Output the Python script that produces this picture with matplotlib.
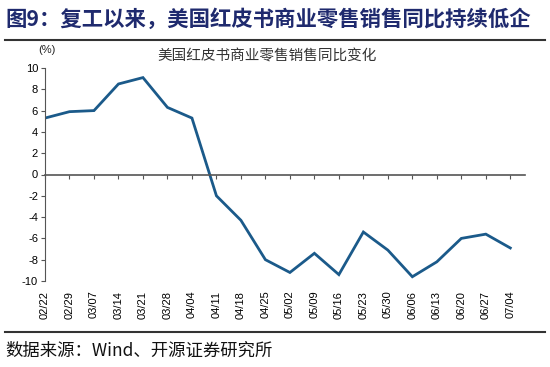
import matplotlib.pyplot as plt

plt.rcParams['font.family'] = ['Liberation Sans', 'Noto Sans CJK SC', 'DejaVu Sans']

dates = ["02/22", "02/29", "03/07", "03/14", "03/21", "03/28", "04/04", "04/11", "04/18", "04/25",
         "05/02", "05/09", "05/16", "05/23", "05/30", "06/06", "06/13", "06/20", "06/27", "07/04"]
yoy = [5.3, 5.9, 6.0, 8.5, 9.1, 6.3, 5.3, -2.0, -4.3, -8.0,
       -9.2, -7.4, -9.4, -5.4, -7.1, -9.6, -8.2, -6.0, -5.6, -6.9]
yticks = list(range(-10, 11, 2))

fig = plt.figure(figsize=(5.5, 3.67), dpi=100)
ax = fig.add_axes([45 / 550, 1 - 281 / 367, 480 / 550, 213 / 367])

x = list(range(len(dates)))
ax.plot(x, yoy, color='#1B5A8A', lw=2.0, solid_joinstyle='miter')

ax.set_xlim(0, 19.6)
ax.set_ylim(-10, 10)
ax.set_yticks(yticks)
ax.set_yticklabels([str(v) for v in yticks], fontsize=8)
ax.tick_params(axis='y', direction='out', length=3, width=0.8, color='#555555', pad=2)

for s in ['top', 'right']:
    ax.spines[s].set_visible(False)
ax.spines['left'].set_color('#555555')
ax.spines['left'].set_linewidth(0.8)
ax.spines['bottom'].set_position(('data', 0))
ax.spines['bottom'].set_color('#555555')
ax.spines['bottom'].set_linewidth(1.2)
ax.set_xticks(x)
ax.tick_params(axis='x', direction='out', length=3, width=0.8, color='#555555', labelbottom=False)

sec = ax.secondary_xaxis('bottom')
sec.spines['bottom'].set_visible(False)
sec.set_xticks(x)
sec.set_xticklabels(dates, rotation=90, fontsize=8)
sec.tick_params(axis='x', length=0, pad=7)

ax.text(-0.015, 1.06, '(%)', transform=ax.transAxes, fontsize=8, ha='left', va='bottom', color='#222222')
ax.text(0.4625, 1.02, '美国红皮书商业零售销售同比变化', transform=ax.transAxes, fontsize=10.5,
        ha='center', va='bottom', color='#333333', family=['Noto Sans CJK SC'])

fig.text(5 / 550, 1 - 19 / 367, '图9：复工以来，美国红皮书商业零售销售同比持续低企', fontsize=15.4,
         fontweight='bold', color='#1F2A6E', ha='left', va='center', family=['Noto Sans CJK SC'])
fig.add_artist(plt.Line2D([5 / 550, 545 / 550], [1 - 40 / 367, 1 - 40 / 367], color='#333333', lw=1.5))
fig.add_artist(plt.Line2D([5 / 550, 545 / 550], [1 - 332 / 367, 1 - 332 / 367], color='#333333', lw=1.5))
fig.text(5 / 550, 1 - 351 / 367, '数据来源：Wind、开源证券研究所', fontsize=12.5, color='#111111',
         ha='left', va='center', family=['Noto Sans CJK SC'])

fig.savefig('out.png', dpi=100)
